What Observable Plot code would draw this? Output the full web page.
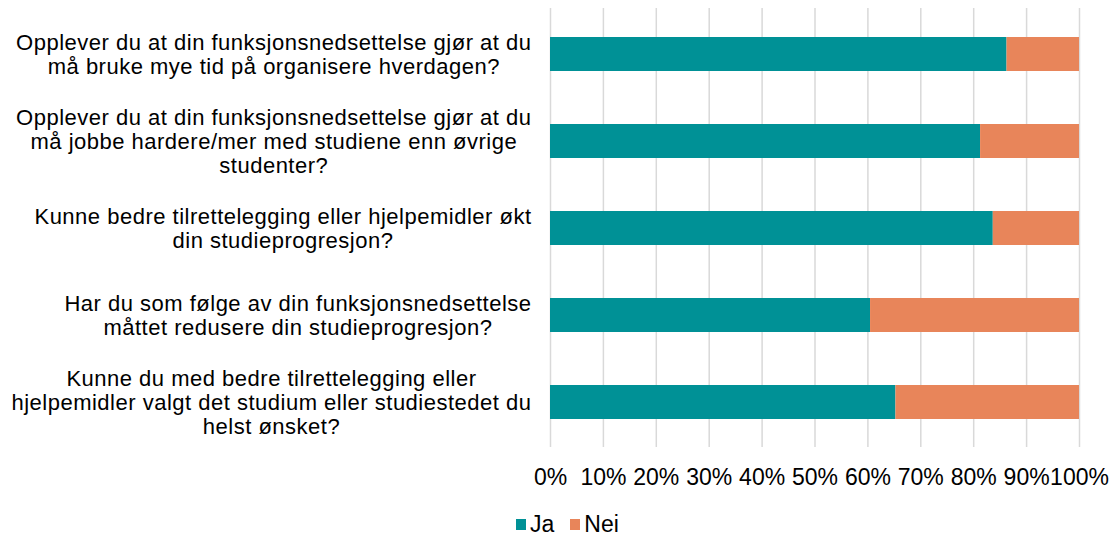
<!DOCTYPE html>
<html><head><meta charset="utf-8">
<script src="https://cdn.jsdelivr.net/npm/d3@7"></script>
<script src="https://cdn.jsdelivr.net/npm/@observablehq/plot@0.6"></script>
<style>
body{margin:0;background:#fff;font-family:"Liberation Sans",Arial,sans-serif;}
#wrap{position:relative;width:1112px;height:535px;}
#legend{position:absolute;left:516px;top:511px;display:flex;align-items:center;font-size:23px;color:#000;line-height:26px;}
.sw{display:inline-block;width:10px;height:11px;margin-right:4px;}
.item{display:flex;align-items:center;margin-right:16px;}
.qlabel text{letter-spacing:0.5px;}
</style></head><body><div id="wrap"><div id="chart"></div><div id="legend"></div></div><script>
const questions = [
  "Opplever du at din funksjonsnedsettelse gjør at du\nmå bruke mye tid på organisere hverdagen?",
  "Opplever du at din funksjonsnedsettelse gjør at du\nmå jobbe hardere/mer med studiene enn øvrige\nstudenter?",
  "Kunne bedre tilrettelegging eller hjelpemidler økt\ndin studieprogresjon?",
  "Har du som følge av din funksjonsnedsettelse\nmåttet redusere din studieprogresjon?",
  "Kunne du med bedre tilrettelegging eller\nhjelpemidler valgt det studium eller studiestedet du\nhelst ønsket?"
];
const series = ["Ja", "Nei"];
const jaPct = [86.3, 81.3, 83.7, 60.5, 65.3];
const neiPct = [13.7, 18.7, 16.3, 39.5, 34.7];
const xTicks = [0, 10, 20, 30, 40, 50, 60, 70, 80, 90, 100];
const colors = ["#009196", "#E8855A"];

const rows = [];
questions.forEach((q, i) => {
  rows.push({q, s: "Ja", v: jaPct[i]});
  rows.push({q, s: "Nei", v: neiPct[i]});
});

const fontSize = 22;
const letterSpacing = 0.5;
const tickFontSize = 23;
const fontFamily = '"Liberation Sans", Arial, sans-serif';
const ctx = document.createElement("canvas").getContext("2d");
ctx.font = `${fontSize}px ${fontFamily}`;
const labelGap = 19;
const labelMarks = questions.map(q => {
  const w = d3.max(q.split("\n"), l => ctx.measureText(l).width + letterSpacing * l.length);
  return Plot.text([q], {frameAnchor: "left", y: d => d, text: d => d, textAnchor: "middle",
    dx: -(labelGap + w / 2), fontSize, lineHeight: 1.08, fill: "#000", className: "qlabel"});
});

const chart = Plot.plot({
  width: 1112, height: 500,
  marginLeft: 550, marginRight: 33, marginTop: 8, marginBottom: 53,
  style: {fontFamily, fontSize: fontSize + "px", color: "#000", background: "#fff"},
  x: {domain: [0, 100], axis: null},
  y: {domain: questions, paddingInner: 0.61, paddingOuter: 0.305, axis: null},
  color: {domain: series, range: colors},
  marks: [
    Plot.gridX(xTicks, {stroke: "#d9d9d9", strokeOpacity: 1, strokeWidth: 1.5}),
    Plot.barX(rows, Plot.stackX({y: "q", x: "v", fill: "s", order: series})),
    Plot.axisX(xTicks, {tickSize: 0, tickPadding: 21, tickFormat: d => d + "%", fontSize: tickFontSize, fill: "#000", label: null}),
    ...labelMarks
  ]
});
document.getElementById("chart").appendChild(chart);

const legend = document.getElementById("legend");
series.forEach((s, i) => {
  const item = document.createElement("span");
  item.className = "item";
  item.innerHTML = `<span class="sw" style="background:${colors[i]}"></span>${s}`;
  legend.appendChild(item);
});
</script></body></html>
